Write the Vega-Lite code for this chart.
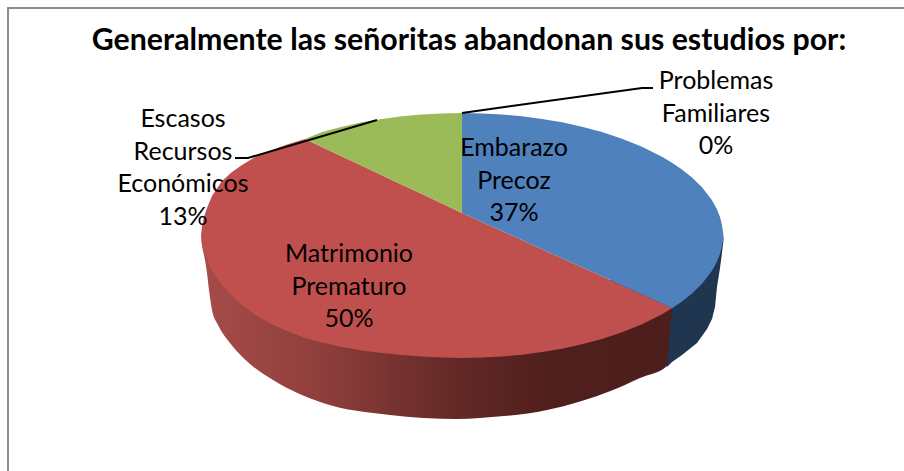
{
"$schema":"https://vega.github.io/schema/vega-lite/v6.json",
"width":904,"height":471,"padding":0,"autosize":{"type":"none"},
"background":"white",
"view":{"stroke":null},
"title":{"text":"Generalmente las señoritas abandonan sus estudios por:","anchor":"middle","dx":17,"offset":-56,"font":"Lato","fontSize":30.3,"fontWeight":"bold","color":"#000000"},
"datasets":{
"frame":[{"x":8,"y":471,"o":1},{"x":8,"y":8,"o":2},{"x":904,"y":8,"o":3}],
"sideBlue":[{"x":667,"y":367,"y2":367},{"x":672,"y":308,"y2":362},{"x":682,"y":298,"y2":355},{"x":692,"y":290,"y2":347},{"x":697,"y":285,"y2":343},{"x":702,"y":280,"y2":336},{"x":707,"y":273,"y2":329},{"x":712,"y":266,"y2":319},{"x":715,"y":262,"y2":307},{"x":717,"y":258,"y2":287},{"x":720,"y":250,"y2":268},{"x":722,"y":243,"y2":253},{"x":723.5,"y":235.5,"y2":240}],
"sideRed":[{"x":201,"y":235.5,"y2":235.5},{"x":202,"y":240,"y2":245},{"x":204,"y":247,"y2":255},{"x":207,"y":255,"y2":273},{"x":209,"y":260,"y2":290},{"x":212,"y":266,"y2":310},{"x":218,"y":272,"y2":325},{"x":230,"y":280,"y2":343},{"x":250,"y":280,"y2":364},{"x":273,"y":280,"y2":380},{"x":323,"y":280,"y2":403},{"x":390,"y":280,"y2":415},{"x":457,"y":280,"y2":419},{"x":480,"y":280,"y2":418},{"x":547,"y":280,"y2":410},{"x":613,"y":280,"y2":390},{"x":640,"y":280,"y2":378},{"x":667,"y":290,"y2":366},{"x":672,"y":300,"y2":361}],
"topRed":[{"x":201,"y":235.5,"y2":235.5},{"x":202,"y":226,"y2":245},{"x":204,"y":217,"y2":252},{"x":207,"y":208,"y2":260},{"x":212,"y":196,"y2":271},{"x":222,"y":181,"y2":285},{"x":232,"y":172,"y2":296},{"x":242,"y":165,"y2":305},{"x":257,"y":156,"y2":316},{"x":272,"y":150,"y2":324.5},{"x":287,"y":144.5,"y2":331},{"x":305,"y":139,"y2":338},{"x":322,"y":147,"y2":342.5},{"x":342,"y":156.4,"y2":347},{"x":362,"y":165.8,"y2":350.5},{"x":382,"y":175.3,"y2":353},{"x":402,"y":184.7,"y2":355},{"x":422,"y":194.1,"y2":356.6},{"x":442,"y":203.6,"y2":357.6},{"x":462,"y":213,"y2":358},{"x":482,"y":222,"y2":357.6},{"x":502,"y":231,"y2":356.6},{"x":522,"y":240.1,"y2":354.7},{"x":542,"y":249.2,"y2":352.1},{"x":562,"y":258.2,"y2":348.8},{"x":582,"y":267.3,"y2":344.3},{"x":602,"y":276.3,"y2":338.9},{"x":622,"y":285.4,"y2":332.3},{"x":642,"y":294.4,"y2":324.2},{"x":662,"y":303.5,"y2":314.2},{"x":672,"y":308.2,"y2":308.2}],
"topBlue":[{"x":462,"y":113,"y2":213},{"x":482,"y":113.4,"y2":222},{"x":502,"y":114.4,"y2":231},{"x":522,"y":116.3,"y2":240.1},{"x":542,"y":118.9,"y2":249.2},{"x":562,"y":122.3,"y2":258.2},{"x":582,"y":126.7,"y2":267.3},{"x":602,"y":132.1,"y2":276.3},{"x":622,"y":138.7,"y2":285.4},{"x":642,"y":146.8,"y2":294.4},{"x":662,"y":156.8,"y2":303.5},{"x":672,"y":162.8,"y2":308.2},{"x":682,"y":169.6,"y2":301.4},{"x":692,"y":177.6,"y2":293.4},{"x":702,"y":187.3,"y2":283.7},{"x":712,"y":200.3,"y2":270.7},{"x":717,"y":209.4,"y2":261.6},{"x":720,"y":217,"y2":254},{"x":722,"y":225,"y2":246},{"x":723.5,"y":235.5,"y2":235.5}],
"topGreen":[{"x":305,"y":139,"y2":139},{"x":322,"y":132.1,"y2":147},{"x":342,"y":126.7,"y2":156.4},{"x":362,"y":122.3,"y2":165.8},{"x":382,"y":118.9,"y2":175.3},{"x":402,"y":116.3,"y2":184.7},{"x":422,"y":114.4,"y2":194.1},{"x":442,"y":113.4,"y2":203.6},{"x":462,"y":113,"y2":213}],
"leaders":[{"leader":"Problemas Familiares","x":462,"y":113,"o":1},{"leader":"Problemas Familiares","x":642,"y":88,"o":2},{"leader":"Problemas Familiares","x":653,"y":88,"o":3},{"leader":"Escasos Recursos Económicos","x":377,"y":120,"o":1},{"leader":"Escasos Recursos Económicos","x":248,"y":158,"o":2},{"leader":"Escasos Recursos Económicos","x":235,"y":158,"o":3}],
"labels":[
{"category":"Embarazo Precoz","value":37,"label":"Embarazo\nPrecoz\n37%","x":514,"y":148},
{"category":"Matrimonio Prematuro","value":50,"label":"Matrimonio\nPrematuro\n50%","x":349,"y":254},
{"category":"Escasos Recursos Económicos","value":13,"label":"Escasos\nRecursos\nEconómicos\n13%","x":183,"y":119},
{"category":"Problemas Familiares","value":0,"label":"Problemas\nFamiliares\n0%","x":716,"y":81}
]
},
"encoding":{
"x":{"field":"x","type":"quantitative","axis":null,"scale":{"domain":[0,904],"nice":false,"zero":false}},
"y":{"field":"y","type":"quantitative","axis":null,"scale":{"domain":[471,0],"nice":false,"zero":false}}
},
"layer":[
{"data":{"name":"frame"},"mark":{"type":"line","stroke":"#8c8c8c","strokeWidth":2},"encoding":{"order":{"field":"o","type":"quantitative"}}},
{"data":{"name":"sideRed"},"mark":{"type":"area","interpolate":"monotone","fill":{"gradient":"linear","x1":0,"y1":0,"x2":1,"y2":0,"stops":[{"offset":0,"color":"#a64c4a"},{"offset":0.25,"color":"#8f3f3c"},{"offset":0.55,"color":"#622826"},{"offset":0.75,"color":"#4f1f1d"},{"offset":1,"color":"#4d1e1c"}]}},"encoding":{"y2":{"field":"y2"}}},
{"data":{"name":"sideBlue"},"mark":{"type":"area","fill":"#1f3550"},"encoding":{"y2":{"field":"y2"}}},
{"data":{"name":"topRed"},"mark":{"type":"area","fill":"#c0504d"},"encoding":{"y2":{"field":"y2"}}},
{"data":{"name":"topBlue"},"mark":{"type":"area","fill":"#4f81bd"},"encoding":{"y2":{"field":"y2"}}},
{"data":{"name":"topGreen"},"mark":{"type":"area","fill":"#9bbb59"},"encoding":{"y2":{"field":"y2"}}},
{"data":{"name":"leaders"},"mark":{"type":"line","stroke":"#000000","strokeWidth":2},"encoding":{"detail":{"field":"leader"},"order":{"field":"o","type":"quantitative"}}},
{"data":{"name":"labels"},"mark":{"type":"text","font":"Lato","fontSize":25,"color":"#000000","lineBreak":"\n","lineHeight":32.5,"align":"center","baseline":"middle"},"encoding":{"text":{"field":"label"}}}
]
}
